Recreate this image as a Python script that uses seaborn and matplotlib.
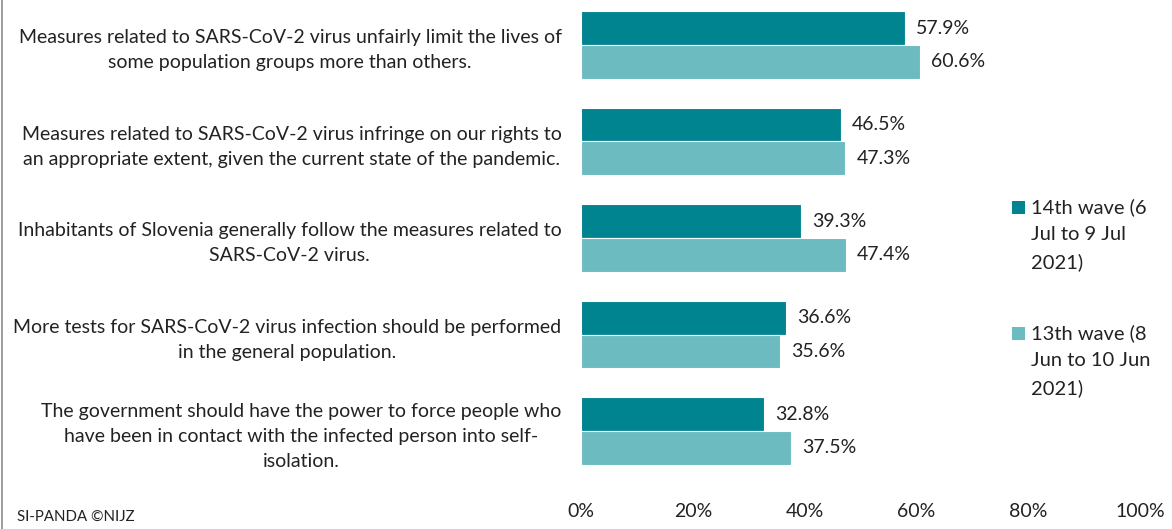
import matplotlib
matplotlib.use("Agg")
import matplotlib.pyplot as plt
import seaborn as sns
import pandas as pd
from matplotlib.lines import Line2D
from matplotlib.patches import Rectangle
from matplotlib.ticker import FuncFormatter

statements = [
    "Measures related to SARS-CoV-2 virus unfairly limit the lives of\nsome population groups more than others.",
    "Measures related to SARS-CoV-2 virus infringe on our rights to\nan appropriate extent, given the current state of the pandemic.",
    "Inhabitants of Slovenia generally follow the measures related to\nSARS-CoV-2 virus.",
    "More tests for SARS-CoV-2 virus infection should be performed\nin the general population.",
    "The government should have the power to force people who\nhave been in contact with the infected person into self-\nisolation.",
]
wave14 = [57.9, 46.5, 39.3, 36.6, 32.8]
wave13 = [60.6, 47.3, 47.4, 35.6, 37.5]
series_names = ["14th wave (6\nJul to 9 Jul\n2021)", "13th wave (8\nJun to 10 Jun\n2021)"]
x_ticks = [0, 20, 40, 60, 80, 100]

dark_teal = "#00848F"
light_teal = "#6CBBC0"
text_color = "#222222"
fs = 14

df = pd.DataFrame({
    "statement": statements * 2,
    "share": wave14 + wave13,
    "wave": [series_names[0]] * 5 + [series_names[1]] * 5,
})

sns.set_theme(style="white")
plt.rcParams["font.family"] = ["Lato", "DejaVu Sans"]
plt.rcParams["text.color"] = text_color

fig = plt.figure(figsize=(11.72, 5.29), dpi=100)
ax = fig.add_axes([581 / 1172, 49.75 / 529, 559 / 1172, 482.5 / 529])

sns.barplot(
    data=df, y="statement", x="share", hue="wave", orient="h",
    hue_order=series_names, palette=[dark_teal, light_teal], saturation=1,
    width=0.7, edgecolor="white", linewidth=0.8, ax=ax, legend=False,
)

for container in ax.containers:
    ax.bar_label(container, fmt="%.1f%%", padding=8, fontsize=fs, color=text_color)

ax.set_xlim(0, 100)
ax.set_ylim(4.5, -0.5)
ax.set_xticks(x_ticks)
ax.xaxis.set_major_formatter(FuncFormatter(lambda v, _: f"{v:.0f}%"))
ax.set_xlabel("")
ax.set_ylabel("")
ax.tick_params(axis="x", length=0, pad=17, labelsize=fs, labelcolor=text_color)
ax.tick_params(axis="y", length=0, pad=14, labelsize=fs, labelcolor=text_color)
for lbl in ax.get_yticklabels():
    lbl.set_multialignment("center")
    lbl.set_linespacing(1.55)
for spine in ax.spines.values():
    spine.set_visible(False)

# legend: colour squares aligned with the first line of each entry
legend_tops = [198, 324]
for color, name, top in zip((dark_teal, light_teal), series_names, legend_tops):
    fig.patches.append(Rectangle((1012 / 1172, 1 - (top + 16) / 529), 13 / 1172, 13 / 529,
                                 transform=fig.transFigure, facecolor=color,
                                 edgecolor="none", figure=fig))
    fig.text(1031 / 1172, 1 - top / 529, name, fontsize=14.5, va="top", ha="left",
             linespacing=1.7, color=text_color)

fig.text(17 / 1172, 1 - 517 / 529, "SI-PANDA ©NIJZ", fontsize=10.8,
         va="center", ha="left", color=text_color)
fig.add_artist(Line2D([2 / 1172, 2 / 1172], [0, 1], color="#8c8c8c", linewidth=1.2,
                      transform=fig.transFigure))

fig.savefig("out.png", dpi=100)
